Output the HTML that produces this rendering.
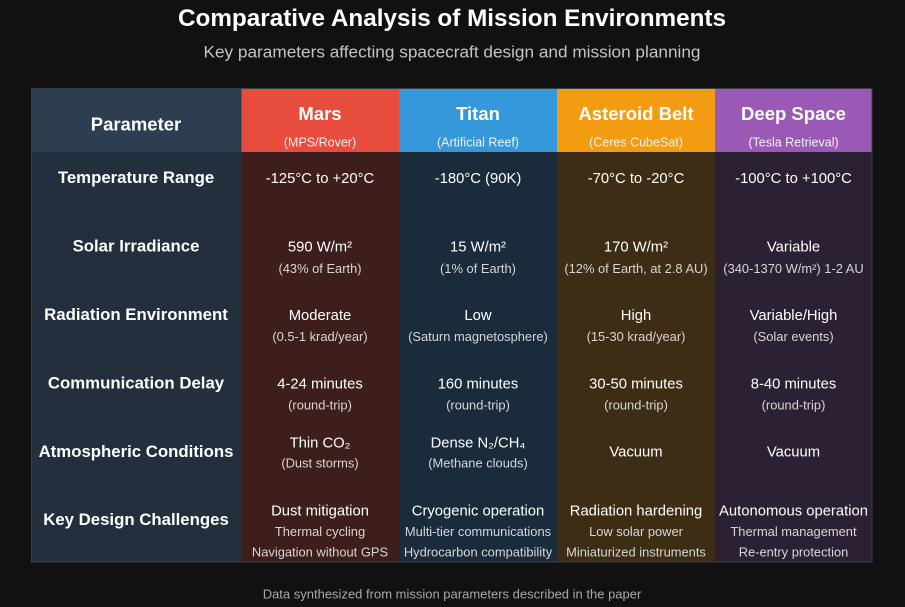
<!DOCTYPE html>
<html>
<head>
<meta charset="utf-8">
<style>
html,body{margin:0;padding:0;background:#111111;}
body{width:905px;height:607px;overflow:hidden;}
svg{display:block;}
text{font-family:"Liberation Sans","DejaVu Sans",sans-serif;}
.t{font-weight:bold;fill:#ffffff;}
.h{font-weight:bold;fill:#ffffff;font-size:18.5px;}
.hs{fill:#f2f2f2;font-size:12.5px;}
.lab{font-weight:bold;fill:#ffffff;font-size:16.8px;}
.v{fill:#ffffff;font-size:14.8px;}
.s{fill:#d6d6d6;font-size:12.9px;}
</style>
</head>
<body>
<svg width="905" height="607" viewBox="0 0 905 607" xmlns="http://www.w3.org/2000/svg">
<rect x="0" y="0" width="905" height="607" fill="#111111"/>
<text class="t" x="452" y="26" text-anchor="middle" font-size="24.5" textLength="548" lengthAdjust="spacingAndGlyphs">Comparative Analysis of Mission Environments</text>
<text x="452" y="57.5" text-anchor="middle" font-size="17" fill="#c4c4c4" textLength="497" lengthAdjust="spacingAndGlyphs">Key parameters affecting spacecraft design and mission planning</text>

<!-- column bodies -->
<rect x="31" y="88" width="210.5" height="474" fill="#232f3d"/>
<rect x="241.5" y="152" width="157.5" height="410" fill="#3d1e1c"/>
<rect x="399" y="152" width="158" height="410" fill="#1a2b3b"/>
<rect x="557" y="152" width="158" height="410" fill="#3d2d14"/>
<rect x="715" y="152" width="157" height="410" fill="#2b2034"/>
<!-- headers -->
<rect x="31" y="88" width="210.5" height="64" fill="#2c3e50"/>
<rect x="241.5" y="88" width="157.5" height="64" fill="#e74c3c"/>
<rect x="399" y="88" width="158" height="64" fill="#3498db"/>
<rect x="557" y="88" width="158" height="64" fill="#f39c12"/>
<rect x="715" y="88" width="157" height="64" fill="#9b59b6"/>
<rect x="31.5" y="88.5" width="840.5" height="473.5" fill="none" stroke="#3a3f46" stroke-width="1"/>

<!-- header text -->
<text class="h" x="136" y="130.5" text-anchor="middle">Parameter</text>
<text class="h" x="320" y="120" text-anchor="middle">Mars</text>
<text class="hs" x="320" y="146.5" text-anchor="middle">(MPS/Rover)</text>
<text class="h" x="478" y="120" text-anchor="middle">Titan</text>
<text class="hs" x="478" y="146.5" text-anchor="middle">(Artificial Reef)</text>
<text class="h" x="636" y="120" text-anchor="middle">Asteroid Belt</text>
<text class="hs" x="636" y="146.5" text-anchor="middle">(Ceres CubeSat)</text>
<text class="h" x="793.5" y="120" text-anchor="middle">Deep Space</text>
<text class="hs" x="793.5" y="146.5" text-anchor="middle">(Tesla Retrieval)</text>

<!-- labels -->
<text class="lab" x="136" y="183" text-anchor="middle">Temperature Range</text>
<text class="lab" x="136" y="251.5" text-anchor="middle">Solar Irradiance</text>
<text class="lab" x="136" y="320" text-anchor="middle">Radiation Environment</text>
<text class="lab" x="136" y="388.5" text-anchor="middle">Communication Delay</text>
<text class="lab" x="136" y="457" text-anchor="middle">Atmospheric Conditions</text>
<text class="lab" x="136" y="525" text-anchor="middle">Key Design Challenges</text>

<!-- Temperature -->
<text class="v" x="320" y="183" text-anchor="middle">-125°C to +20°C</text>
<text class="v" x="478" y="183" text-anchor="middle">-180°C (90K)</text>
<text class="v" x="636" y="183" text-anchor="middle">-70°C to -20°C</text>
<text class="v" x="793.5" y="183" text-anchor="middle">-100°C to +100°C</text>

<!-- Solar -->
<text class="v" x="320" y="251.5" text-anchor="middle">590 W/m²</text>
<text class="s" x="320" y="273" text-anchor="middle">(43% of Earth)</text>
<text class="v" x="478" y="251.5" text-anchor="middle">15 W/m²</text>
<text class="s" x="478" y="273" text-anchor="middle">(1% of Earth)</text>
<text class="v" x="636" y="251.5" text-anchor="middle">170 W/m²</text>
<text class="s" x="636" y="273" text-anchor="middle">(12% of Earth, at 2.8 AU)</text>
<text class="v" x="793.5" y="251.5" text-anchor="middle">Variable</text>
<text class="s" x="793.5" y="273" text-anchor="middle">(340-1370 W/m²) 1-2 AU</text>

<!-- Radiation -->
<text class="v" x="320" y="320" text-anchor="middle">Moderate</text>
<text class="s" x="320" y="341" text-anchor="middle">(0.5-1 krad/year)</text>
<text class="v" x="478" y="320" text-anchor="middle">Low</text>
<text class="s" x="478" y="341" text-anchor="middle">(Saturn magnetosphere)</text>
<text class="v" x="636" y="320" text-anchor="middle">High</text>
<text class="s" x="636" y="341" text-anchor="middle">(15-30 krad/year)</text>
<text class="v" x="793.5" y="320" text-anchor="middle">Variable/High</text>
<text class="s" x="793.5" y="341" text-anchor="middle">(Solar events)</text>

<!-- Communication -->
<text class="v" x="320" y="388.5" text-anchor="middle">4-24 minutes</text>
<text class="s" x="320" y="409.5" text-anchor="middle">(round-trip)</text>
<text class="v" x="478" y="388.5" text-anchor="middle">160 minutes</text>
<text class="s" x="478" y="409.5" text-anchor="middle">(round-trip)</text>
<text class="v" x="636" y="388.5" text-anchor="middle">30-50 minutes</text>
<text class="s" x="636" y="409.5" text-anchor="middle">(round-trip)</text>
<text class="v" x="793.5" y="388.5" text-anchor="middle">8-40 minutes</text>
<text class="s" x="793.5" y="409.5" text-anchor="middle">(round-trip)</text>

<!-- Atmospheric -->
<text class="v" x="320" y="447.5" text-anchor="middle">Thin CO₂</text>
<text class="s" x="320" y="467.5" text-anchor="middle">(Dust storms)</text>
<text class="v" x="478" y="447.5" text-anchor="middle">Dense N₂/CH₄</text>
<text class="s" x="478" y="467.5" text-anchor="middle">(Methane clouds)</text>
<text class="v" x="636" y="456.5" text-anchor="middle">Vacuum</text>
<text class="v" x="793.5" y="456.5" text-anchor="middle">Vacuum</text>

<!-- Design -->
<text class="v" x="320" y="515.5" text-anchor="middle">Dust mitigation</text>
<text class="s" x="320" y="536" text-anchor="middle">Thermal cycling</text>
<text class="s" x="320" y="556.5" text-anchor="middle">Navigation without GPS</text>
<text class="v" x="478" y="515.5" text-anchor="middle">Cryogenic operation</text>
<text class="s" x="478" y="536" text-anchor="middle">Multi-tier communications</text>
<text class="s" x="478" y="556.5" text-anchor="middle">Hydrocarbon compatibility</text>
<text class="v" x="636" y="515.5" text-anchor="middle">Radiation hardening</text>
<text class="s" x="636" y="536" text-anchor="middle">Low solar power</text>
<text class="s" x="636" y="556.5" text-anchor="middle">Miniaturized instruments</text>
<text class="v" x="793.5" y="515.5" text-anchor="middle">Autonomous operation</text>
<text class="s" x="793.5" y="536" text-anchor="middle">Thermal management</text>
<text class="s" x="793.5" y="556.5" text-anchor="middle">Re-entry protection</text>

<text x="452" y="598.5" text-anchor="middle" font-size="13" fill="#a8a8a8">Data synthesized from mission parameters described in the paper</text>
</svg>
</body>
</html>
